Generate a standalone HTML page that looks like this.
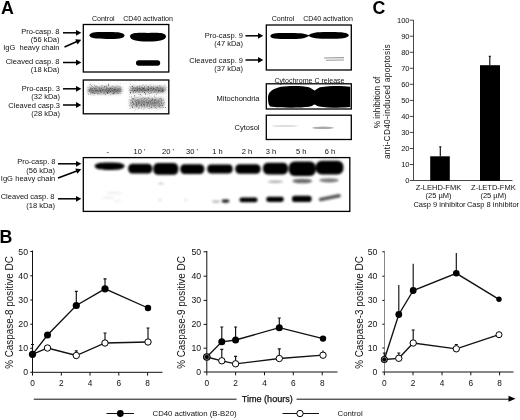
<!DOCTYPE html>
<html><head><meta charset="utf-8">
<style>
html,body{margin:0;padding:0;background:#fff;}
body{width:520px;height:420px;overflow:hidden;}
svg{display:block;filter:blur(0.35px);font-family:"Liberation Sans",sans-serif;fill:#111;}
.b{font-weight:bold;font-size:17.8px;fill:#000}
.t7{font-size:7.5px}
.t8{font-size:8.3px}
.ax{stroke:#111;stroke-width:1;fill:none}
.ln{stroke:#111;stroke-width:1.35;fill:none}
.ar{stroke:#000;stroke-width:1.5;fill:none}
.eb{stroke:#111;stroke-width:1.15;fill:none}
.box{stroke:#000;stroke-width:1.3;fill:#fff}
.fc{fill:#000;stroke:none}
.oc{fill:#fff;stroke:#000;stroke-width:1}
</style></head><body>
<svg width="520" height="420" viewBox="0 0 520 420">
<defs>
<filter id="bl1" x="-20%" y="-50%" width="140%" height="200%"><feGaussianBlur stdDeviation="0.65"/></filter>
<filter id="bl3" x="-20%" y="-50%" width="140%" height="200%"><feGaussianBlur stdDeviation="0.85"/></filter>
<filter id="bl2" x="-20%" y="-80%" width="140%" height="260%"><feGaussianBlur stdDeviation="0.7"/></filter>
<filter id="grain" x="-10%" y="-40%" width="120%" height="180%" color-interpolation-filters="sRGB">
<feTurbulence type="fractalNoise" baseFrequency="0.75" numOctaves="2" seed="11" result="n"/>
<feColorMatrix in="n" type="matrix" values="0 0 0 0 0  0 0 0 0 0  0 0 0 0 0  1.3 1.3 0 0 -1.05" result="a"/>
<feGaussianBlur in="SourceGraphic" stdDeviation="1.7" result="sb"/>
<feColorMatrix in="sb" type="matrix" values="1 0 0 0 0  0 1 0 0 0  0 0 1 0 0  0 0 0 0.42 0" result="base"/>
<feComposite in="sb" in2="a" operator="in" result="c"/>
<feMerge result="m"><feMergeNode in="base"/><feMergeNode in="c"/></feMerge>
<feGaussianBlur in="m" stdDeviation="0.45"/>
</filter>
<filter id="speck" x="-10%" y="-40%" width="120%" height="180%" color-interpolation-filters="sRGB">
<feTurbulence type="fractalNoise" baseFrequency="0.95" numOctaves="2" seed="5" result="n"/>
<feColorMatrix in="n" type="matrix" values="0 0 0 0 0  0 0 0 0 0  0 0 0 0 0  3 3 0 0 -3.45" result="a"/>
<feGaussianBlur in="SourceGraphic" stdDeviation="1.3" result="sb"/>
<feComposite in="sb" in2="a" operator="in" result="c"/>
<feGaussianBlur in="c" stdDeviation="0.4"/>
</filter>
<path id="ah" d="M0.3,0 L-5,-2.9 L-5,2.9 Z" fill="#000"/>
</defs>
<rect width="520" height="420" fill="#fff"/>

<!-- ============ PANEL A ============ -->
<text class="b" x="1.1" y="13.8">A</text>
<g id="A1">
<text class="t7" style="font-size:7.05px" x="103.3" y="20.8" text-anchor="middle">Control</text>
<text class="t7" style="font-size:7.05px" x="148" y="20.8" text-anchor="middle">CD40 activation</text>
<rect class="box" x="83.3" y="24.5" width="85.5" height="47.5"/>
<g filter="url(#bl1)">
<path d="M89.3,35.3 C90,32 96,31.8 107,31.9 C118,31.8 124,32.3 124.6,35.4 C124,38.6 118,38.9 107,38.9 C96,38.9 90,38.6 89.3,35.3 Z" fill="#000"/>
<path d="M130,36.3 C130.5,32.8 136,32.6 148,32.9 C160,32.6 165.5,32.8 166,36.3 C166,40 160,41.6 148,41.6 C136,41.6 130,40 130,36.3 Z" fill="#000"/>
<rect x="136" y="60.3" width="24.2" height="5.4" rx="2.7" fill="#000"/>
</g>
<text class="t7" x="59.5" y="34.3" text-anchor="end">Pro-casp. 8</text>
<text class="t7" x="59.5" y="42.3" text-anchor="end">(56 kDa)</text>
<text class="t7" x="59.5" y="50.2" text-anchor="end" xml:space="preserve">IgG  heavy chain</text>
<text class="t7" x="59.5" y="63.8" text-anchor="end">Cleaved casp. 8</text>
<text class="t7" x="59.5" y="72" text-anchor="end">(18 kDa)</text>
<line class="ar" x1="63" y1="32.8" x2="77" y2="32.8"/><use href="#ah" transform="translate(81,32.8)"/>
<line class="ar" x1="64.5" y1="47" x2="77.5" y2="41.3"/><use href="#ah" transform="translate(81,39.8) rotate(-23.6)"/>
<line class="ar" x1="63" y1="62.5" x2="77" y2="62.5"/><use href="#ah" transform="translate(81,62.5)"/>
</g>

<g id="A2">
<rect class="box" x="83.3" y="80" width="85.5" height="33.8"/>
<g filter="url(#speck)" fill="#555">
<rect x="88" y="84" width="34" height="11"/>
<rect x="129" y="85" width="37" height="25"/>
</g>
<g filter="url(#grain)" fill="#3a3a3a">
<rect x="88" y="86.8" width="33.5" height="6.6" rx="2"/>
<rect x="130" y="86.8" width="35.5" height="5.6" rx="2"/>
<rect x="130" y="98" width="34" height="9.4" rx="3" fill="#555"/>
</g>
<g filter="url(#bl3)" fill="#333" opacity="0.45">
<rect x="104" y="89.2" width="17" height="2.6" rx="1.3"/>
<rect x="90" y="89.8" width="14" height="1.8" rx="0.9"/>
<rect x="133" y="88.6" width="31" height="2" rx="1"/>
<rect x="136" y="101.6" width="24" height="2.4" rx="1.2" opacity="0.7"/>
</g>
<text class="t7" x="60" y="91.3" text-anchor="end">Pro-casp. 3</text>
<text class="t7" x="60" y="99" text-anchor="end">(32 kDa)</text>
<text class="t7" x="60" y="107.5" text-anchor="end">Cleaved casp.3</text>
<text class="t7" x="60" y="116.3" text-anchor="end">(28 kDa)</text>
<line class="ar" x1="63" y1="88.8" x2="77" y2="88.8"/><use href="#ah" transform="translate(81,88.8)"/>
<line class="ar" x1="63" y1="105" x2="77" y2="105"/><use href="#ah" transform="translate(81,105)"/>
</g>

<g id="A3">
<text class="t7" style="font-size:7.05px" x="283" y="20.8" text-anchor="middle">Control</text>
<text class="t7" style="font-size:7.05px" x="328" y="20.8" text-anchor="middle">CD40 activation</text>
<rect class="box" x="266.3" y="25" width="85" height="45"/>
<g filter="url(#bl1)">
<path d="M270.3,36 C270.8,33.2 276,32.9 289,33 C300,32.9 306,33.6 309.5,35.6 C306,38.6 300,39.1 289,39.1 C276,39.1 270.8,38.8 270.3,36 Z" fill="#000"/>
<path d="M308.5,35.4 C311,32.3 318,31.8 329,31.9 C341,31.8 348.3,32.3 348.9,35.2 C348.3,38.2 341,38.7 329,38.7 C318,38.7 311,38.3 308.5,35.4 Z" fill="#000"/>
</g>
<g filter="url(#bl1)" stroke="#999" stroke-width="1.1" fill="none">
<line x1="324" y1="58" x2="344" y2="57.6"/>
<line x1="326" y1="60.3" x2="344" y2="60"/>
</g>
<text class="t7" x="243" y="37.5" text-anchor="end">Pro-casp. 9</text>
<text class="t7" x="243" y="45.5" text-anchor="end">(47 kDa)</text>
<text class="t7" x="243" y="62.5" text-anchor="end">Cleaved casp. 9</text>
<text class="t7" x="243" y="70.5" text-anchor="end">(37 kDa)</text>
<line class="ar" x1="245.5" y1="35.8" x2="259" y2="35.8"/><use href="#ah" transform="translate(263,35.8)"/>
<line class="ar" x1="245.5" y1="60" x2="259" y2="60"/><use href="#ah" transform="translate(263,60)"/>
</g>

<g id="A4">
<rect class="box" x="266.3" y="83.8" width="85" height="25.2"/>
<text class="t7" style="font-size:7.05px" x="309.5" y="83" text-anchor="middle">Cytochrome C release</text>
<g filter="url(#bl2)">
<path d="M268,97 C268.5,92 271.5,89 280.8,86.7 C290,85.6 302,85.6 309,87.3 C312,88.3 313.5,90.3 314.6,90.6 C315.7,90.3 317,88.3 320,87.3 C330,85.6 342,85.6 350.3,86.8 L350.3,107 C342,108 328,107.9 319,106.4 C316.5,105.8 315.5,104.6 314.6,104.4 C313.5,104.6 312.5,106 309,106.8 C300,108 280,108 270,106.5 C268,104 268,100 268,97 Z" fill="#000"/>
</g>
<text class="t7" x="259.5" y="101" text-anchor="end">Mitochondria</text>
<rect class="box" x="266.3" y="115.2" width="85" height="24.3"/>
<g filter="url(#bl1)">
<ellipse cx="285" cy="126" rx="13" ry="0.9" fill="#ddd"/>
<ellipse cx="323" cy="127.8" rx="11" ry="1.3" fill="#aaa"/>
</g>
<text class="t7" x="259.5" y="130" text-anchor="end">Cytosol</text>
</g>

<g id="A5">
<rect class="box" x="83.3" y="157.6" width="266.5" height="53.8"/>
<g class="t7" text-anchor="middle">
<text x="107.7" y="154.3">-</text>
<text x="139.5" y="154.3">10 '</text>
<text x="168" y="154.3">20 '</text>
<text x="192" y="154.3">30 '</text>
<text x="217.5" y="154.3">1 h</text>
<text x="247" y="154.3">2 h</text>
<text x="271" y="154.3">3 h</text>
<text x="301.3" y="154.3">5 h</text>
<text x="330" y="154.3">6 h</text>
</g>
<g filter="url(#bl3)" fill="#000">
<path d="M94.6,166 C95.2,162.8 101,162.3 109.6,162.4 C118,162.3 124,162.8 124.6,166 C124,169.4 118,170 109.6,170 C101,170 95.2,169.4 94.6,166 Z"/>
<rect x="128.2" y="163.8" width="24" height="9.6" rx="4.2"/>
<rect x="153.3" y="163" width="25" height="11.8" rx="4.8"/>
<rect x="180.3" y="164.2" width="24" height="9.8" rx="4.2"/>
<rect x="207.3" y="164.6" width="25.3" height="8.8" rx="3.8"/>
<rect x="235.3" y="164.2" width="25.3" height="9.6" rx="4.2"/>
<rect x="263" y="162.8" width="25" height="11.6" rx="4.8"/>
<rect x="288.8" y="161.6" width="27" height="14.4" rx="5.8"/>
<rect x="315.8" y="160.7" width="27.6" height="13.8" rx="5.8"/>
</g>
<g filter="url(#bl3)" fill="#ececec">
<ellipse cx="114" cy="193" rx="8" ry="1"/><ellipse cx="108" cy="197.5" rx="6" ry="1"/><ellipse cx="117" cy="201" rx="5" ry="0.8"/>
</g>
<g filter="url(#bl3)">
<ellipse cx="275.4" cy="181.7" rx="7.5" ry="1.3" fill="#aaa"/>
<ellipse cx="302.3" cy="181" rx="9.8" ry="2.3" fill="#6a6a6a"/>
<ellipse cx="329" cy="180.3" rx="9.8" ry="2.1" fill="#7a7a7a"/>
<ellipse cx="161" cy="183.5" rx="3" ry="0.7" fill="#bbb"/>
<ellipse cx="160" cy="200" rx="1.2" ry="0.8" fill="#bbb"/>
<ellipse cx="185.5" cy="200" rx="1.2" ry="0.8" fill="#bbb"/>
<ellipse cx="216" cy="201.6" rx="4" ry="1.1" fill="#aaa"/>
<ellipse cx="225.5" cy="201" rx="4" ry="1.8" fill="#222"/>
<rect x="239.5" y="197.4" width="18" height="4.8" rx="2.2" fill="#000"/>
<rect x="266.2" y="196.8" width="17.6" height="5.2" rx="2.4" fill="#000"/>
<rect x="292" y="195.8" width="19.6" height="6.2" rx="2.8" fill="#000"/>
<path d="M320.5,199.5 L339,195.8" stroke="#585858" stroke-width="3.6" stroke-linecap="round" fill="none"/>
</g>
<text class="t7" x="55.5" y="164.2" text-anchor="end">Pro-casp. 8</text>
<text class="t7" x="55" y="173" text-anchor="end">(56 kDa)</text>
<text class="t7" x="0.8" y="181.3">IgG</text><text class="t7" x="55.3" y="181.3" text-anchor="end">heavy chain</text>
<text class="t7" x="54.5" y="199.2" text-anchor="end">Cleaved casp. 8</text>
<text class="t7" x="55" y="208" text-anchor="end">(18 kDa)</text>
<line class="ar" x1="58" y1="163.8" x2="77" y2="163.8"/><use href="#ah" transform="translate(81,163.8)"/>
<line class="ar" x1="58" y1="178" x2="77.5" y2="170.7"/><use href="#ah" transform="translate(81,169.4) rotate(-20.5)"/>
<line class="ar" x1="58" y1="198.8" x2="77" y2="198.8"/><use href="#ah" transform="translate(81,198.8)"/>
</g>

<!-- ============ PANEL C ============ -->
<text class="b" x="372.4" y="14.1">C</text>
<g id="C">
<path class="ax" style="stroke:#333;stroke-width:0.9" d="M413.5,20 V180.5 H512.5"/>
<g class="ax" style="stroke:#333;stroke-width:0.9">
<path d="M409.8,20.2H413.5 M409.8,36.2H413.5 M409.8,52.3H413.5 M409.8,68.3H413.5 M409.8,84.3H413.5 M409.8,100.4H413.5 M409.8,116.4H413.5 M409.8,132.4H413.5 M409.8,148.5H413.5 M409.8,164.5H413.5 M409.8,180.5H413.5"/>
</g>
<g class="t7" text-anchor="end">
<text x="409.5" y="22.8">100</text>
<text x="409.5" y="38.8">90</text>
<text x="409.5" y="54.9">80</text>
<text x="409.5" y="70.9">70</text>
<text x="409.5" y="86.9">60</text>
<text x="409.5" y="103">50</text>
<text x="409.5" y="119">40</text>
<text x="409.5" y="135">30</text>
<text x="409.5" y="151.1">20</text>
<text x="409.5" y="167.1">10</text>
<text x="409.5" y="183.1">0</text>
</g>
<rect x="430.2" y="156.3" width="19.6" height="24.5" fill="#000"/>
<rect x="480" y="65.2" width="20" height="115.6" fill="#000"/>
<path class="eb" d="M440.3,156.5V146.8 M439.3,146.8H441.3 M489.8,65.5V56.3 M488.8,56.3H490.8" stroke-width="1.5"/>
<text class="t8" transform="translate(380,102.5) rotate(-90)" text-anchor="middle">% inhibition of</text>
<text class="t8" style="letter-spacing:0.3px" transform="translate(389.7,101.5) rotate(-90)" text-anchor="middle">anti-CD40-induced apoptosis</text>
<g class="t7" text-anchor="middle">
<text x="438.5" y="190.2">Z-LEHD-FMK</text>
<text x="438.5" y="198.2">(25 µM)</text>
<text x="439.5" y="207.4">Casp 9 inhibitor</text>
<text x="493.4" y="190.2">Z-LETD-FMK</text>
<text x="493.4" y="198.2">(25 µM)</text>
<text x="493" y="207.4">Casp 8 inhibitor</text>
</g>
</g>

<!-- ============ PANEL B ============ -->
<text class="b" x="-0.5" y="242.9">B</text>
<g id="B1">
<path class="ax" d="M32.5,250.5 V372.3 H162.5"/>
<path class="ax" d="M30.3,251.5H32.5 M30.3,275.8H32.5 M30.3,300H32.5 M30.3,324.2H32.5 M30.3,348.3H32.5 M30.3,372.3H32.5"/>
<path class="ax" d="M32.5,372.3V375.6 M61.3,372.3V375.6 M90,372.3V375.6 M118.8,372.3V375.6 M147.6,372.3V375.6"/>
<g style="font-size:8.7px" text-anchor="end">
<text x="28" y="254.6">50</text><text x="28" y="278.9">40</text><text x="28" y="303.1">30</text><text x="28" y="327.2">20</text><text x="28" y="351.4">10</text><text x="28" y="375.4">0</text>
</g>
<g style="font-size:8.3px" text-anchor="middle">
<text x="32.5" y="386">0</text><text x="61.3" y="386">2</text><text x="90" y="386">4</text><text x="118.8" y="386">6</text><text x="147.6" y="386">8</text>
</g>
<text style="font-size:9.9px" transform="translate(13.3,312.5) rotate(-90) scale(1,1.1)" text-anchor="middle">% Caspase-8 positive DC</text>
<path class="eb" d="M32.5,354V344.5M31,344.5H34 M76.3,305V291.3M74.8,291.3H77.8 M105,288V278.8M103.5,278.8H106.5 M76.3,355V350.8M74.8,350.8H77.8 M105,343V333M103.5,333H106.5 M148,342V328M146.5,328H149.5"/>
<path class="ln" d="M32.5,354.3 L47.5,335 L76.3,305.5 L105,288.8 L148,308"/>
<path class="ln" d="M32.5,354.3 L47.5,348 L76.3,355.5 L105,343 L148,342"/>
<circle class="oc" cx="47.5" cy="348" r="3.2"/><circle class="oc" cx="76.3" cy="355.5" r="3.2"/><circle class="oc" cx="105" cy="343" r="3.2"/><circle class="oc" cx="148" cy="342" r="3.2"/>
<circle class="fc" cx="32.5" cy="354.3" r="3.6"/><circle class="fc" cx="47.5" cy="335" r="3.5"/><circle class="fc" cx="76.3" cy="305.5" r="3.6"/><circle class="fc" cx="105" cy="288.8" r="3.6"/><circle class="fc" cx="148" cy="308" r="3.2"/>
</g>

<g id="B2">
<path class="ax" d="M206.8,251 V372 H337.5"/>
<path class="ax" d="M203.6,251.8H206.8 M203.6,276.2H206.8 M203.6,300.4H206.8 M203.6,324.4H206.8 M203.6,348.2H206.8 M203.6,372H206.8"/>
<path class="ax" d="M206.8,372V375.3 M235.6,372V375.3 M264.5,372V375.3 M293.3,372V375.3 M322.2,372V375.3"/>
<g style="font-size:8.7px" text-anchor="end">
<text x="201.2" y="254.9">50</text><text x="201.2" y="279.2">40</text><text x="201.2" y="303.4">30</text><text x="201.2" y="327.4">20</text><text x="201.2" y="351.2">10</text><text x="201.2" y="375.1">0</text>
</g>
<g style="font-size:8.3px" text-anchor="middle">
<text x="206.8" y="386">0</text><text x="235.6" y="386">2</text><text x="264.5" y="386">4</text><text x="293.3" y="386">6</text><text x="322.2" y="386">8</text>
</g>
<text style="font-size:9.9px" transform="translate(185.2,312.5) rotate(-90) scale(1,1.1)" text-anchor="middle">% Caspase-9 positive DC</text>
<path class="eb" d="M221.8,341V327M220.3,327H223.3 M235.6,340V327M234.1,327H237.1 M279.3,327V318M277.8,318H280.8 M221.8,360V349.3M220.3,349.3H223.3 M235.6,363V356.3M234.1,356.3H237.1 M279.3,358V348.8M277.8,348.8H280.8 M323,355V350.5"/>
<path class="ln" d="M206.8,357 L221.8,341.8 L235.6,340 L279.3,327.7 L323,338.6"/>
<path class="ln" d="M206.8,357 L221.8,360.8 L235.6,363.8 L279.3,358.5 L323,355.2"/>
<circle class="oc" cx="221.8" cy="360.8" r="3.2"/><circle class="oc" cx="235.6" cy="363.8" r="3.2"/><circle class="oc" cx="279.3" cy="358.5" r="3.2"/><circle class="oc" cx="323" cy="355.2" r="3.2"/>
<circle class="fc" cx="206.8" cy="357" r="3.8"/><circle cx="206.8" cy="357" r="2.5" fill="none" stroke="#bbb" stroke-width="0.6"/>
<circle class="fc" cx="221.8" cy="341.8" r="3.5"/><circle class="fc" cx="235.6" cy="340" r="3.5"/><circle class="fc" cx="279.3" cy="327.7" r="3.5"/><circle class="fc" cx="323" cy="338.6" r="3.2"/>
</g>

<g id="B3">
<path class="ax" style="stroke:#555;stroke-width:0.7" d="M384.5,251 V372"/><path class="ax" d="M384.3,372 H513.5"/>
<path class="ax" d="M382.3,251.8H384.3 M382.3,276.2H384.3 M382.3,300.4H384.3 M382.3,324.2H384.3 M382.3,348H384.3 M382.3,372H384.3"/>
<path class="ax" d="M384.3,372V375.3 M413,372V375.3 M442,372V375.3 M470.8,372V375.3 M499.6,372V375.3"/>
<g style="font-size:8.7px" text-anchor="end">
<text x="377.4" y="254.9">50</text><text x="377.4" y="279.2">40</text><text x="377.4" y="303.4">30</text><text x="377.4" y="327.2">20</text><text x="377.4" y="351.1">10</text><text x="377.4" y="375.1">0</text>
</g>
<g style="font-size:8.3px" text-anchor="middle">
<text x="384.3" y="386">0</text><text x="413" y="386">2</text><text x="442" y="386">4</text><text x="470.8" y="386">6</text><text x="499.6" y="386">8</text>
</g>
<text style="font-size:9.9px" transform="translate(362.5,312.5) rotate(-90) scale(1,1.18)" text-anchor="middle">% Caspase-3 positive DC</text>
<path class="eb" d="M384.3,359V353M382.8,353H385.8 M398.8,314V285 M413.2,290V263.8 M456.3,273V253 M398.8,358V353M397.3,353H400.3 M413.2,343V330M411.7,330H414.7 M456.3,348V344.5M454.8,344.5H457.8"/>
<path class="ln" d="M384.3,359.5 L398.8,314.5 L413.2,290.5 L456.3,273.3 L499,299.3"/>
<path class="ln" d="M384.3,359.5 L398.8,358.3 L413.2,343 L456.3,348.8 L499,334.7"/>
<circle class="oc" cx="398.8" cy="358.3" r="3.2"/><circle class="oc" cx="413.2" cy="343" r="3.2"/><circle class="oc" cx="456.3" cy="348.8" r="3.2"/><circle class="oc" cx="499" cy="334.7" r="3"/>
<circle class="fc" cx="384.3" cy="359.5" r="3.5"/><circle cx="384.3" cy="359.5" r="2.3" fill="none" stroke="#bbb" stroke-width="0.6"/>
<circle class="fc" cx="398.8" cy="314.5" r="3.4"/><circle class="fc" cx="413.2" cy="290.5" r="3.4"/><circle class="fc" cx="456.3" cy="273.3" r="3.3"/><circle class="fc" cx="499" cy="299.3" r="2.7"/>
</g>

<!-- time arrow + legend -->
<path class="ax" d="M33.8,399.2H236.5 M296.5,399.2H510"/>
<path d="M515.5,398.8 L508.5,395.8 L508.5,401.8 Z" fill="#000"/>
<text style="font-size:9.1px;stroke:#111;stroke-width:0.25px" x="267.3" y="402" text-anchor="middle">Time (hours)</text>
<path class="ax" d="M106.5,413.5H134 M282.5,413.5H319"/>
<circle class="fc" cx="120.3" cy="413.5" r="3.4"/>
<circle class="oc" cx="300" cy="413.5" r="3.2"/>
<text class="t7" style="font-size:7.8px" x="152.5" y="416.2">CD40 activation (B-B20)</text>
<text class="t7" style="font-size:7.8px" x="337.5" y="416.2">Control</text>
</svg>
</body></html>
